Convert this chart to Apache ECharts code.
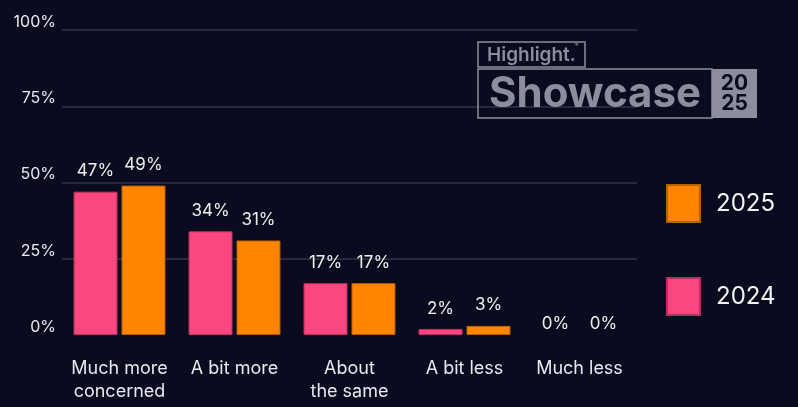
<!DOCTYPE html>
<html>
<head>
<meta charset="utf-8">
<script src="https://cdn.jsdelivr.net/npm/echarts@6/dist/echarts.min.js"></script>
<style>
  html, body { margin: 0; padding: 0; background: #0a0b1e; }
  #chart { width: 798px; height: 407px; }
</style>
</head>
<body>
<div id="chart"></div>
<script>
const categories = ['Much more\nconcerned', 'A bit more', 'About\nthe same', 'A bit less', 'Much less']
const values2024 = [47, 34, 17, 2, 0]
const values2025 = [49, 31, 17, 3, 0]
const yTicks = [0, 25, 50, 75, 100]

const font = 'Inter, "Noto Sans", sans-serif'
const pink = '#fb4680'
const orange = '#ff8400'
const logoGrey = '#8d8d9d'

// zero bars get no outline so nothing shows at the baseline
function barData(values) {
    return values.map(v => v === 0 ? {
        value: v,
        itemStyle: { borderWidth: 0 },
        label: { distance: 3 }
    } : v)
}

const valueLabel = {
    show: true,
    position: 'top',
    distance: 12,
    color: '#eeeeee',
    fontSize: 17,
    formatter: p => p.value + '%'
}

const chart = echarts.init(document.getElementById('chart'))

chart.setOption({
    backgroundColor: '#0a0b1e',
    animation: false,
    textStyle: { fontFamily: font },
    grid: { left: 62, right: 161, top: 30, bottom: 72 },
    legend: {
        orient: 'vertical',
        left: 666,
        top: 184,
        padding: 0,
        itemWidth: 33,
        itemHeight: 37,
        itemGap: 54,
        icon: 'rect',
        data: ['2025', '2024'],
        textStyle: { color: '#f2f2f2', fontSize: 24, padding: [0, 0, 0, 11] }
    },
    xAxis: {
        type: 'category',
        data: categories,
        axisLine: { show: false },
        axisTick: { show: false },
        axisLabel: {
            color: '#e8e8ee',
            fontSize: 18,
            lineHeight: 23,
            margin: 22,
            interval: 0
        }
    },
    yAxis: {
        type: 'value',
        min: yTicks[0],
        max: yTicks[yTicks.length - 1],
        interval: 25,
        axisLine: { show: false },
        axisTick: { show: false },
        axisLabel: {
            color: '#e8e8ee',
            fontSize: 16,
            verticalAlign: 'bottom',
            margin: 6,
            formatter: v => v + '%'
        },
        splitLine: {
            showMinLine: false,
            lineStyle: { color: '#34354a', width: 1.5 }
        }
    },
    series: [{
            name: '2024',
            type: 'bar',
            data: barData(values2024),
            barWidth: 44,
            barGap: '9%',
            itemStyle: { color: pink, borderColor: '#b8305f', borderWidth: 1 },
            label: valueLabel
        },
        {
            name: '2025',
            type: 'bar',
            data: barData(values2025),
            barWidth: 44,
            itemStyle: { color: orange, borderColor: '#b85f00', borderWidth: 1 },
            label: valueLabel
        }
    ],
    // watermark logo in the top right
    graphic: [{
            type: 'rect',
            shape: { x: 478, y: 42, width: 107, height: 25 },
            style: { fill: 'none', stroke: logoGrey, lineWidth: 1.5 },
            z: 10
        },
        {
            type: 'text',
            x: 487,
            y: 55,
            style: {
                text: 'Highlight.',
                fill: logoGrey,
                font: '600 19px ' + font,
                verticalAlign: 'middle'
            },
            z: 10
        },
        {
            type: 'text',
            x: 574,
            y: 47,
            style: {
                text: '™',
                fill: logoGrey,
                font: '600 7px ' + font,
                verticalAlign: 'middle'
            },
            z: 10
        },
        {
            type: 'rect',
            shape: { x: 478, y: 69, width: 234, height: 49 },
            style: { fill: 'none', stroke: logoGrey, lineWidth: 1.5 },
            z: 10
        },
        {
            type: 'text',
            x: 489,
            y: 94,
            style: {
                text: 'Showcase',
                fill: logoGrey,
                font: 'bold 42px ' + font,
                verticalAlign: 'middle'
            },
            z: 10
        },
        {
            type: 'rect',
            shape: { x: 712, y: 69, width: 45, height: 49 },
            style: { fill: logoGrey },
            z: 10
        },
        {
            type: 'text',
            x: 734.5,
            y: 94,
            style: {
                text: '20\n25',
                fill: '#0a0b1e',
                font: 'bold 21px ' + font,
                lineHeight: 20,
                align: 'center',
                verticalAlign: 'middle'
            },
            z: 11
        }
    ]
})
</script>
</body>
</html>
